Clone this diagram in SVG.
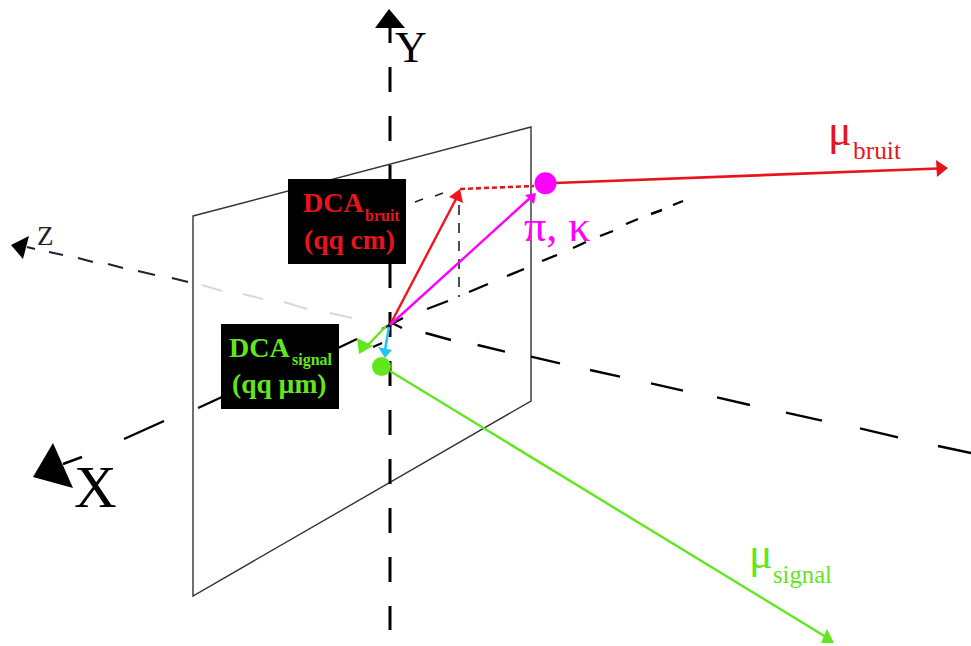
<svg xmlns="http://www.w3.org/2000/svg" width="971" height="646" viewBox="0 0 971 646">
<style>
text{font-family:"Liberation Serif","Times New Roman",serif}
.ax{stroke:#000;stroke-width:2.4;fill:none}
.th{stroke:#222;stroke-width:1.6;fill:none}
.zd{stroke:#222;stroke-width:2;fill:none}
.gr{stroke:#d9d9d9;stroke-width:2;fill:none}
.b{font-weight:bold}
.red{fill:#e8141c}.grn{fill:#62e61e}.mag{fill:#ff00ff}
.k{fill:#000}
</style>
<rect width="971" height="646" fill="#fff"/>
<g id="plane"><path d="M193 216L531 127V401L193 596Z" fill="none" stroke="#333" stroke-width="1.4"/></g>
<g id="connectors">
<g id="axis-y">
<path class="ax" stroke-dasharray="25 24" d="M390 18V630" style="stroke-width:3"/>
<polygon class="k" points="389,9 375,28 405,28"/>
</g>
<g id="axis-z">
<path class="zd" d="M27 247L35 249M49 252L63 255M78 258L93 262M108 264L123 268M138 271L155 275M172 278L188 282"/>
<path class="gr" d="M202 285L222 291M243 294L263 299M284 302L307 309M330 313L352 318"/>
<path class="ax" d="M392 323L402 328M425.500 333L451 340M477.600 345L505 351.700M531 356.700L560 363.300M590 370L620 376.700M651 383.300L683 390.700M717 397.300L750 405M786 412.700L822 420.700M860 428.300L898 437.300M938 446L971 453"/>
<polygon class="k" points="29,236 11,245 23,259"/>
</g>
<g id="axis-x">
<path class="ax" d="M63 464L82 457M124 439L164 421M198 408L222 397M338 348L357 339M373 347L382 343M382 329L403 318M427 309L448 301M469 292L488 284M507 276L524 269M542 261L557 255M573 248L586 242M600 236L613 231M626 224L638 219M651 214L662 210M673 205L683 201"/>
<polygon class="k" points="53,443 33,477 73,488"/>
</g>
<g id="projection">
<path class="th" d="M415 202L423 199M435 196L443 193"/>
<path class="th" stroke-dasharray="10 8" d="M459 205V297"/>
<path fill="none" stroke="#e8141c" stroke-width="2.600" stroke-dasharray="5 3" d="M460 189L534 186"/>
</g>
<g id="track-red-dca">
<path fill="none" stroke="#f0141c" stroke-width="2.400" d="M390 325L457 197"/>
<polygon fill="#f0141c" points="460,189 449,197 463,203"/>
</g>
<g id="track-pion">
<path fill="none" stroke="#ff00ff" stroke-width="2.400" d="M390 325L530 198"/>
<polygon class="mag" points="536,193 525,195 534,204"/>
</g>
<g id="track-green-dca">
<path fill="none" stroke="#62e61e" stroke-width="2.400" d="M386 326L367 346"/>
<polygon class="grn" points="357,338 359,354 373,346"/>
</g>
<g id="track-cyan">
<path fill="none" stroke="#22c4f4" stroke-width="2.600" d="M389 327L385 350"/>
<polygon fill="#22c4f4" points="378,347 392,350 385,358"/>
</g>
<g id="mu-bruit">
<path fill="none" stroke="#e8141c" stroke-width="2.600" d="M555 183L938 168.500"/>
<polygon fill="#e8141c" points="936,160 948,168 937,177"/>
</g>
<g id="mu-signal">
<path fill="none" stroke="#62e61e" stroke-width="2.400" d="M390 371L826 637"/>
<polygon class="grn" points="827,629 821,643 834,643"/>
</g>
</g>
<g id="label-y"><text x="395" y="62" font-size="44" class="k">Y</text></g>
<g id="label-x"><text x="74" y="507" font-size="59" class="k">X</text></g>
<g id="label-z"><text x="37" y="245" font-size="27" fill="#222">Z</text></g>
<g id="dca-bruit">
<rect x="288" y="179" width="118" height="85" fill="#000"/>
<text x="303" y="212" font-size="28" class="b red">DCA</text>
<text x="365" y="221" font-size="16" class="b red">bruit</text>
<text x="304" y="249" font-size="27.500" class="b red">(qq cm)</text>
</g>
<g id="dca-signal">
<rect x="221" y="324" width="118" height="85" fill="#000"/>
<text x="229" y="357" font-size="28" class="b grn">DCA</text>
<text x="292" y="365" font-size="16" class="b grn">signal</text>
<text x="232" y="393" font-size="27.500" class="b grn">(qq µm)</text>
</g>
<g id="point-pion"><circle cx="545.500" cy="183.300" r="11" class="mag"/></g>
<g id="point-signal"><circle cx="381.500" cy="366.500" r="9.500" class="grn"/></g>
<g id="label-pion"><text x="524" y="241" font-size="44" class="mag">π, κ</text></g>
<g id="label-mu-bruit"><text x="828" y="145" font-size="44" class="red">μ</text><text x="853" y="159" font-size="25.400" class="red">bruit</text></g>
<g id="label-mu-signal"><text x="749" y="568" font-size="44" class="grn">μ</text><text x="773" y="583" font-size="24.700" class="grn">signal</text></g>
</svg>
